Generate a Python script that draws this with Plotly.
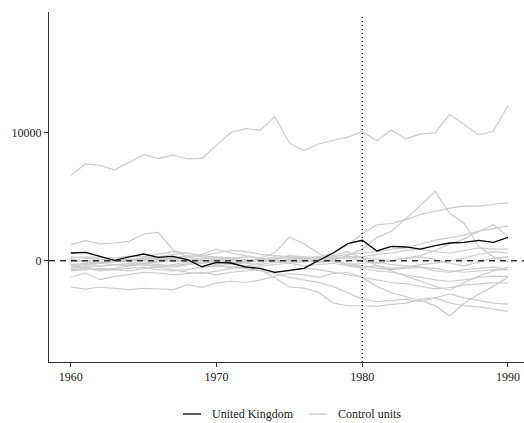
import plotly.graph_objects as go

years = list(range(1960, 1991))

uk = [600, 650, 340, 20, 290, 520, 260, 340, 80, -470, -130, -180, -490, -600, -910,
      -780, -600, 20, 600, 1330, 1590, 760, 1120, 1070, 910, 1170, 1380, 1430, 1590, 1430, 1820]

ctrl_top = [6650, 7540, 7440, 7070, 7670, 8270, 7960, 8240, 7930, 7980, 8990, 10010, 10300, 10170, 11210,
            9180, 8580, 9100, 9390, 9620, 10060, 9340, 10190, 9490, 9880, 9960, 11410, 10610, 9800, 10110, 12090]
ctrl_a = [-300, -250, -150, -50, 50, 150, 100, -50, 50, 150, 250, 100, -50, 50, 150,
          250, 100, -150, 50, 400, 900, 1800, 2300, 3300, 4300, 5400, 3700, 2900, 1100, 300, -100]
ctrl_b = [-500, -400, -450, -300, -350, -200, -300, -400, -250, -100, -200, -300, -150, 0, -100,
          100, 200, 300, 600, 1200, 2100, 2800, 2900, 3200, 3600, 3850, 4100, 4250, 4250, 4400, 4500]
ctrl_c = [200, 300, 250, 200, 350, 300, 500, 700, 600, 400, 600, 800, 700, 500, 400,
          300, 200, 100, 300, 200, 0, -200, 0, 200, 400, 800, 1300, 1700, 2300, 2800, 1900]
ctrl_d = [-100, 0, 100, 50, -50, 100, 200, 100, -100, 0, 100, 200, 300, 200, 100,
          0, -100, 100, 300, 500, 600, 700, 900, 1000, 1300, 1600, 1800, 2000, 2300, 2500, 2700]
ctrl_e = [0, -100, -200, -100, 100, 200, 300, 500, 600, 400, 300, 200, 100, 0, -100,
          -200, -100, 100, 200, 300, 300, 500, 600, 800, 900, 700, 600, 800, 1000, 900, 900]
ctrl_f = [-600, -500, -700, -600, -400, -300, -500, -300, -100, -200, 100, -200, -100, 200, 600,
          1850, 1300, 600, 0, -300, -500, -400, -600, -500, -300, -200, 0, 200, 500, 700, 600]
ctrl_g = [-400, -300, -200, -300, -400, -200, -100, 0, 300, 500, 900, 600, 400, 200, 0,
          -100, 0, 100, -100, -200, -400, -600, -700, -600, -500, -800, -900, -700, -600, -500, -700]
ctrl_h = [-1270, -960, -1480, -1220, -1090, -910, -960, -1100, -1000, -900, -1100, -900, -800, -700, -1350,
          -2050, -2130, -2470, -3300, -3510, -3510, -3560, -3400, -3300, -3000, -2900, -3300, -3500, -3600, -3800, -3950]
ctrl_i = [-2050, -2210, -2050, -2130, -2260, -2160, -2210, -2260, -1870, -2080, -1740, -1600, -1700, -1500, -1200,
          -1000, -1100, -1300, -1000, -900, -1300, -2000, -2500, -2800, -3100, -3500, -4300, -3300, -2600, -2000, -1300]
ctrl_j = [-800, -700, -600, -700, -800, -600, -500, -700, -900, -1000, -800, -600, -500, -700, -900,
          -800, -600, -700, -900, -1100, -1300, -1500, -1700, -1800, -2000, -2200, -2100, -1900, -1800, -1700, -1740]
ctrl_k = [-300, -200, -400, -300, -200, -300, -400, -500, -300, -200, -400, -500, -600, -400, -300,
          -200, -400, -300, -200, -400, -600, -800, -900, -1100, -1300, -1500, -1600, -1500, -1300, -1200, -1220]
ctrl_l = [100, 0, -100, 0, 100, 0, -100, 200, 400, 300, 100, 0, -200, -300, -100,
          0, 200, 300, 0, -300, -200, -100, -300, -400, -500, -600, -800, -900, -800, -700, -700]
ctrl_m = [-700, -600, -800, -700, -600, -500, -700, -800, -700, -500, -400, -500, -600, -800, -1000,
          -1300, -1500, -1700, -2000, -2500, -3000, -3200, -3100, -3000, -3200, -2900, -2600, -2900, -3100, -3300, -3380]
ctrl_n = [300, 200, 100, 0, -100, -200, 0, 200, 100, 0, -100, -200, 0, 100, 300,
          200, 0, -100, 100, 300, 200, 100, 0, 200, 300, 100, -200, -400, -100, 200, 300]
ctrl_o = [1250, 1570, 1310, 1380, 1510, 2080, 2210, 860, 300, 100, -300, -500, -400, -200, 100,
          400, 300, 200, 400, 700, 200, -400, -800, -1200, -1600, -2000, -2300, -1700, -1200, -800, -500]

controls = [ctrl_top, ctrl_a, ctrl_b, ctrl_c, ctrl_d, ctrl_e, ctrl_f, ctrl_g, ctrl_h,
            ctrl_i, ctrl_j, ctrl_k, ctrl_l, ctrl_m, ctrl_n, ctrl_o]

treat_year = 1980
x_ticks = [1960, 1970, 1980, 1990]
x_tick_labels = ["1960", "1970", "1980", "1990"]
y_ticks = [0, 10000]
y_tick_labels = ["0", "10000"]
legend_labels = ["United Kingdom", "Control units"]

GRAY = "#cccccc"
TXT = "#1a1a1a"
FONT = "Liberation Serif, Times New Roman, serif"

fig = go.Figure()
for c in controls:
    fig.add_trace(go.Scatter(x=years, y=c, mode="lines",
                             line=dict(color=GRAY, width=1.2),
                             showlegend=False, hoverinfo="skip"))
fig.add_trace(go.Scatter(x=years, y=uk, mode="lines",
                         line=dict(color="black", width=1.3),
                         showlegend=False))

# reference lines
fig.add_shape(type="line", xref="paper", yref="y", x0=0, x1=1, y0=0, y1=0,
              line=dict(color="#333333", width=1.6, dash="6px,5px"), layer="above")
fig.add_shape(type="line", xref="x", yref="paper", x0=treat_year, x1=treat_year, y0=0, y1=0.99,
              line=dict(color="black", width=1.2, dash="1px,3px"), layer="above")

# manual legend (paper coords)
W, H = 475.0, 350.0
def px_x(p):
    return (p - 49) / W
def px_y(p):
    return (362 - p) / H

leg_y = 414
fig.add_shape(type="line", xref="paper", yref="paper", x0=px_x(183), x1=px_x(201),
              y0=px_y(leg_y), y1=px_y(leg_y), line=dict(color="black", width=1.3))
fig.add_shape(type="line", xref="paper", yref="paper", x0=px_x(309), x1=px_x(327),
              y0=px_y(leg_y), y1=px_y(leg_y), line=dict(color=GRAY, width=1.3))
fig.add_annotation(xref="paper", yref="paper", x=px_x(210), y=px_y(leg_y), text=legend_labels[0],
                   showarrow=False, xanchor="left", yanchor="middle",
                   font=dict(family=FONT, size=12, color=TXT))
fig.add_annotation(xref="paper", yref="paper", x=px_x(336), y=px_y(leg_y), text=legend_labels[1],
                   showarrow=False, xanchor="left", yanchor="middle",
                   font=dict(family=FONT, size=12, color=TXT))

fig.update_layout(
    width=524, height=423,
    margin=dict(l=49, r=0, t=12, b=61),
    paper_bgcolor="white", plot_bgcolor="white",
    font=dict(family=FONT, size=12, color=TXT),
    showlegend=False,
    xaxis=dict(range=[1958.5, 1991.1], tickmode="array", tickvals=x_ticks, ticktext=x_tick_labels,
               showgrid=False, zeroline=False, showline=True, linecolor="#333333", linewidth=1,
               ticks="outside", ticklen=4, tickcolor="#333333",
               tickfont=dict(family=FONT, size=12, color=TXT)),
    yaxis=dict(range=[-7895, 19384], tickmode="array", tickvals=y_ticks, ticktext=y_tick_labels,
               showgrid=False, zeroline=False, showline=True, linecolor="#333333", linewidth=1,
               ticks="outside", ticklen=4, tickcolor="#333333",
               tickfont=dict(family=FONT, size=12, color=TXT)),
)

fig.write_html("out.html")
